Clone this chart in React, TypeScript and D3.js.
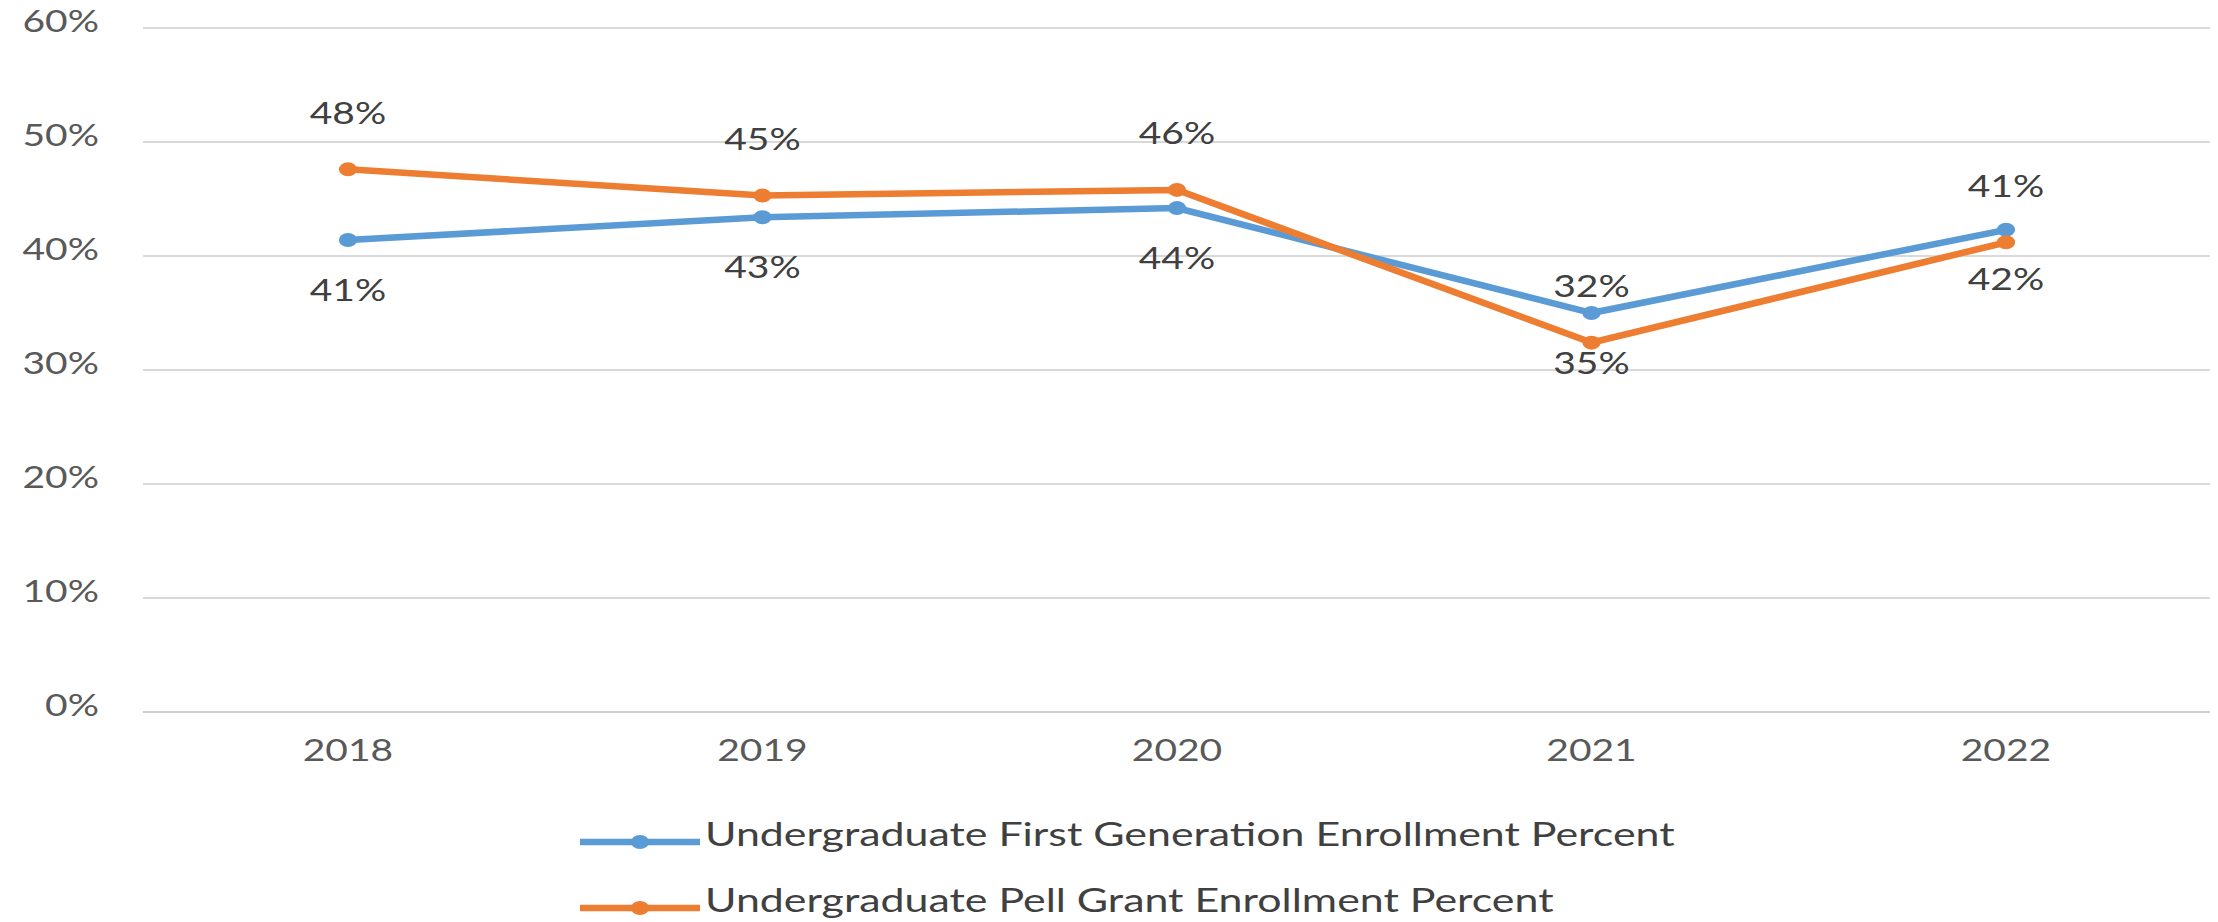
import React from "react";
import * as d3 from "d3";

const years = ["2018", "2019", "2020", "2021", "2022"];
const firstGenValues = [0.414, 0.434, 0.442, 0.35, 0.423];
const pellValues = [0.476, 0.453, 0.458, 0.324, 0.412];
const yTickValues = [0, 0.1, 0.2, 0.3, 0.4, 0.5, 0.6];
const seriesNames = [
  "Undergraduate First Generation Enrollment Percent",
  "Undergraduate Pell Grant Enrollment Percent",
];
const seriesColors = ["#5B9BD5", "#ED7D31"];

const WIDTH = 2218;
const HEIGHT = 922;
const K = 1.3; // horizontal stretch of the drawing
const IW = WIDTH / K;
const FONT = "Lato, 'Open Sans', sans-serif";

export default function App() {
  const x = d3.scalePoint<string>().domain(years).range([348 / K, 2006 / K]);
  const y = d3.scaleLinear().domain([0, 0.6]).range([712, 28]);
  const fmt = d3.format(".0%");
  const line = d3
    .line<number>()
    .x((_, i) => x(years[i]) as number)
    .y((d) => y(d));

  const series = [firstGenValues, pellValues];
  const gridX0 = 143 / K;
  const gridX1 = 2210 / K;

  return (
    <svg
      width={WIDTH}
      height={HEIGHT}
      viewBox={`0 0 ${IW} ${HEIGHT}`}
      preserveAspectRatio="none"
      style={{ position: "absolute", left: 0, top: 0, background: "#fff" }}
      fontFamily={FONT}
    >
      <rect x={0} y={0} width={IW} height={HEIGHT} fill="#fff" />
      {yTickValues.map((t) => (
        <g key={t}>
          <line
            x1={gridX0}
            x2={gridX1}
            y1={y(t)}
            y2={y(t)}
            stroke={t === 0 ? "#cfcfcf" : "#d9d9d9"}
            strokeWidth={2}
          />
          <text
            x={99 / K}
            y={y(t) - 4}
            textAnchor="end"
            dominantBaseline="middle"
            fontSize={30}
            fill="#595959"
          >
            {fmt(t)}
          </text>
        </g>
      ))}
      {years.map((yr) => (
        <text
          key={yr}
          x={x(yr)}
          y={753}
          textAnchor="middle"
          dominantBaseline="middle"
          fontSize={30}
          fill="#595959"
        >
          {yr}
        </text>
      ))}
      {series.map((vals, si) => (
        <g key={si}>
          <path
            d={line(vals) || ""}
            fill="none"
            stroke={seriesColors[si]}
            strokeWidth={6.5}
            strokeLinejoin="round"
          />
          {vals.map((v, i) => (
            <circle
              key={i}
              cx={x(years[i])}
              cy={y(v)}
              r={7}
              fill={seriesColors[si]}
            />
          ))}
          {vals.map((v, i) => (
            <text
              key={"l" + i}
              x={x(years[i])}
              y={si === 1 ? y(v) - 53 : y(v) + 53}
              textAnchor="middle"
              dominantBaseline="middle"
              fontSize={30}
              fill="#404040"
            >
              {fmt(v)}
            </text>
          ))}
        </g>
      ))}
      {seriesNames.map((name, si) => {
        const cy = 842 + si * 66;
        return (
          <g key={name}>
            <line
              x1={580 / K}
              x2={700 / K}
              y1={cy}
              y2={cy}
              stroke={seriesColors[si]}
              strokeWidth={6.5}
            />
            <circle cx={640 / K} cy={cy} r={7} fill={seriesColors[si]} />
            <text
              x={705 / K}
              y={cy - 4}
              dominantBaseline="middle"
              fontSize={33}
              fill="#404040"
            >
              {name}
            </text>
          </g>
        );
      })}
    </svg>
  );
}
